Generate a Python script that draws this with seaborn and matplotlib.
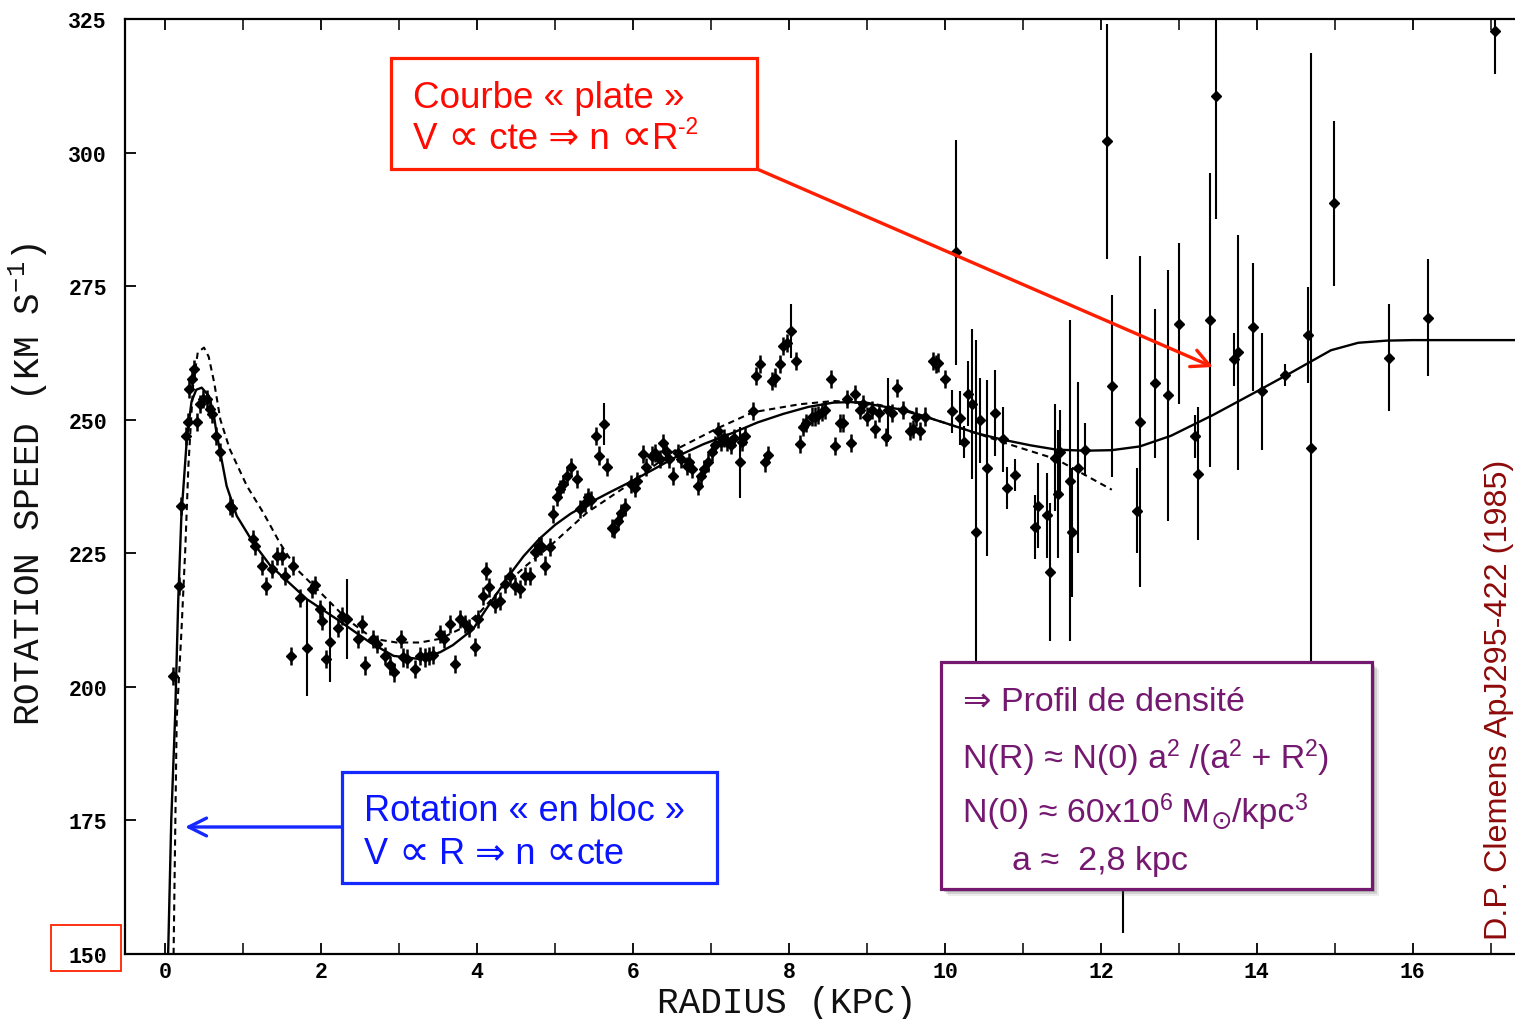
import matplotlib
matplotlib.use("Agg")
import matplotlib.pyplot as plt
from matplotlib.patches import Rectangle, FancyArrowPatch
import seaborn as sns

# ---------------------------------------------------------------- data
# densely sampled inner-disc measurements (radius kpc, speed km/s)
r_in = [0.107, 0.18, 0.21, 0.265, 0.30, 0.31, 0.34, 0.37, 0.41, 0.45, 0.49, 0.54,
        0.58, 0.60, 0.66, 0.71, 0.83, 0.86, 1.13, 1.15, 1.24, 1.30, 1.37, 1.43,
        1.50, 1.54, 1.64, 1.61, 1.73, 1.88, 1.92, 1.99, 2.01, 2.07, 2.22, 2.27,
        2.47, 2.52, 2.56, 2.67, 2.72, 2.82, 2.88, 2.93, 3.03, 3.05, 3.10, 3.21,
        3.27, 3.33, 3.38, 3.44, 3.53, 3.58, 3.65, 3.72, 3.78, 3.85, 3.90, 3.97,
        4.01, 4.08, 4.12, 4.15, 4.23, 4.29, 4.36, 4.42, 4.49, 4.55, 4.62, 4.68,
        4.74, 4.79, 4.82, 4.87, 4.94, 4.97, 5.02, 5.06, 5.10, 5.15, 5.21, 5.28,
        5.32, 5.38, 5.42, 5.46, 5.53, 5.57, 5.67, 5.73, 5.76, 5.81, 5.85, 5.90,
        5.98, 6.03, 6.05, 6.13, 6.17, 6.24, 6.28, 6.35, 6.39, 6.42, 6.46, 6.52,
        6.58, 6.62, 6.69, 6.72, 6.76, 6.84, 6.87, 6.91, 6.96, 7.01, 7.05, 7.09,
        7.13, 7.17, 7.21, 7.26, 7.29, 7.40, 7.44, 7.54, 7.58, 7.63, 7.69, 7.73,
        7.78, 7.82, 7.88, 7.93, 7.97, 8.09, 8.14, 8.18, 8.22, 8.29, 8.33, 8.37,
        8.42, 8.46, 8.54, 8.59, 8.65, 8.69, 8.74, 8.79, 8.85, 8.91, 8.95, 9.00,
        9.06, 9.10, 9.15, 9.24, 9.32, 9.39, 9.46, 9.55, 9.59, 9.63, 9.68, 9.74,
        9.85, 9.88, 9.91, 10.00]
v_in = [202.1, 218.9, 233.9, 247.0, 249.5, 255.7, 257.6, 259.5, 249.5, 253.0, 253.9, 253.9,
        252.0, 251.0, 247.0, 243.9, 233.9, 233.5, 227.7, 226.4, 222.7, 218.9, 222.0, 224.5,
        224.5, 220.8, 222.7, 205.8, 216.7, 218.3, 219.0, 214.6, 212.4, 205.2, 211.1, 213.3,
        209.0, 211.8, 204.0, 209.0, 208.0, 205.8, 204.0, 202.7, 209.0, 205.5, 205.3, 203.3,
        205.8, 205.5, 205.8, 206.0, 209.9, 209.0, 211.8, 204.3, 212.7, 211.8, 211.0, 207.4,
        212.7, 217.0, 221.7, 218.6, 215.5, 216.1, 219.2, 220.8, 218.9, 218.3, 220.8, 220.8,
        225.2, 226.4, 226.4, 222.7, 226.1, 232.3, 235.5, 237.0, 238.0, 239.5, 241.1, 238.9,
        233.3, 234.5, 235.5, 235.0, 247.0, 243.3, 241.1, 229.8, 229.6, 231.1, 232.5, 233.6,
        238.0, 237.3, 238.5, 243.6, 241.1, 243.3, 243.8, 242.6, 245.7, 244.2, 242.6, 239.5,
        243.8, 242.6, 241.4, 242.0, 240.8, 237.6, 239.5, 240.8, 242.0, 243.9, 245.2, 247.9,
        245.8, 246.5, 245.8, 245.2, 246.5, 245.8, 247.0, 251.7, 258.2, 260.4, 242.0, 243.4,
        257.3, 257.9, 260.4, 263.8, 264.4, 261.0, 245.5, 248.6, 249.4, 250.6, 250.6, 250.9,
        251.5, 251.8, 257.6, 245.1, 249.4, 249.4, 253.9, 245.6, 254.8, 251.8, 253.0, 250.6,
        251.8, 248.3, 251.2, 246.7, 251.2, 256.0, 251.8, 247.9, 248.3, 250.6, 247.9, 250.6,
        261.0, 260.4, 260.7, 257.6]

# measurements with individual (larger) uncertainties
r_bar = [1.82, 2.11, 2.33, 5.63, 7.37, 8.03, 9.27,
         10.09, 10.14, 10.20, 10.24, 10.30, 10.35, 10.40, 10.45, 10.54, 10.64,
         10.74, 10.79, 10.90, 11.15, 11.19, 11.31, 11.35, 11.41, 11.45, 11.48,
         11.60, 11.63, 11.71, 11.80, 12.08, 12.14, 12.28, 12.46, 12.50, 12.70,
         12.86, 13.00, 13.21, 13.25, 13.40, 13.47, 13.71, 13.76, 13.95, 14.06,
         14.36, 14.65, 14.70, 14.99, 15.70, 16.20, 17.05]
v_bar = [207.3, 208.4, 212.7, 249.2, 242.0, 266.6, 251.8,
         251.6, 281.3, 250.3, 245.9, 254.9, 252.9, 228.9, 249.9, 240.9, 251.3,
         246.3, 237.2, 239.7, 229.9, 233.9, 232.1, 221.5, 242.9, 236.1, 243.9,
         238.6, 228.9, 241.0, 244.4, 302.1, 256.3, 175.0, 233.0, 249.6, 256.8,
         254.6, 268.0, 246.9, 239.9, 268.7, 310.6, 261.3, 262.6, 267.3, 255.3,
         258.4, 265.8, 244.7, 290.5, 261.6, 269.1, 322.7]
e_bar = [9.0, 7.5, 7.5, 4.0, 6.7, 5.0, 6.0,
         4.0, 21.0, 5.0, 3.0, 6.0, 14.0, 36.0, 8.0, 16.5, 8.0,
         6.0, 4.0, 3.0, 6.0, 8.0, 8.0, 13.0, 10.0, 12.0, 8.0,
         30.0, 12.0, 16.0, 5.0, 22.0, 17.0, 21.0, 8.0, 31.0, 14.0,
         23.5, 15.0, 4.0, 12.5, 27.5, 23.0, 5.0, 22.0, 12.0, 11.0,
         2.0, 9.0, 74.0, 15.5, 10.0, 11.0, 8.0]

# model rotation curves
r_fit = [0.04, 0.08, 0.13, 0.17, 0.21, 0.28, 0.34, 0.40, 0.47, 0.56, 0.62, 0.66, 0.79,
         0.92, 1.13, 1.35, 1.56, 1.82, 2.2, 2.63, 2.93, 3.27, 3.53, 3.69, 3.95,
         4.12, 4.29, 4.45, 4.60, 4.80, 5.0, 5.2, 5.4, 5.7, 6.0, 6.3, 6.56, 6.9, 7.29, 7.6,
         7.93, 8.25, 8.57, 8.8, 9.0, 9.4, 9.74, 10.0, 10.4, 10.73, 11.1, 11.43,
         11.8, 12.14, 12.5, 12.9, 13.44, 14.0, 14.45, 14.95, 15.3, 15.66, 16.0, 17.31]
v_fit = [150.0, 175.0, 194.6, 216.4, 232.0, 246.4, 253.4, 255.6, 256.0, 254.5, 251.4, 247.6, 237.6,
         232.0, 227.0, 222.7, 219.9, 216.4, 212.7, 208.3, 205.8, 205.2, 206.5, 207.8, 210.8,
         214.6, 218.2, 221.6, 224.5, 227.7, 230.3, 232.4, 234.1, 236.4, 238.6, 241.0, 243.1, 245.4,
         247.6, 249.5, 251.1, 252.4, 253.2, 253.3, 253.0, 252.0, 250.6, 249.4, 247.5, 246.3,
         245.2, 244.4, 244.2, 244.3, 245.0, 247.0, 250.9, 255.3, 258.9, 263.0, 264.4, 264.8,
         264.9, 264.9]
r_alt = [0.11, 0.15, 0.21, 0.26, 0.30, 0.36, 0.42, 0.50, 0.56, 0.63, 0.71, 0.83, 1.05, 1.26,
         1.47, 1.69, 1.99, 2.33, 2.67, 2.97, 3.27, 3.53, 3.78, 4.04, 4.34, 4.64, 4.94,
         5.41, 5.92, 6.56, 7.07, 7.54, 8.14, 8.57, 9.0, 9.5, 10.0, 10.5, 10.78, 11.43, 12.14]
v_alt = [150.0, 194.0, 210.2, 225.8, 241.4, 256.4, 262.6, 263.5, 261.8, 257.0, 250.0, 244.5, 237.6,
         232.6, 227.0, 222.0, 217.7, 212.7, 209.0, 208.3, 208.3, 209.0, 210.8, 214.0, 218.9, 222.8,
         226.4, 232.6, 237.6, 244.5, 248.3, 251.4, 252.9, 253.5, 253.2, 251.8, 249.4, 247.0, 245.6,
         242.6, 236.9]

x_ticks = [0, 2, 4, 6, 8, 10, 12, 14, 16]
x_minor = [1, 3, 5, 7, 9, 11, 13, 15, 17]
y_ticks = [150, 175, 200, 225, 250, 275, 300, 325]

# ---------------------------------------------------------------- figure
sns.set_theme(style="ticks")
plt.rcParams["font.family"] = ["Liberation Sans", "DejaVu Sans"]

W, H = 1515, 1020
fig = plt.figure(figsize=(W / 100, H / 100), dpi=100)
fig.patch.set_facecolor("white")
ax = fig.add_axes([125 / W, 1 - 955 / H, (W - 125) / W, (955 - 20) / H])
ax.set_facecolor("white")

sns.lineplot(x=r_fit, y=v_fit, ax=ax, sort=False, color="black", lw=1.7, zorder=2)
sns.lineplot(x=r_alt, y=v_alt, ax=ax, sort=False, color="black", lw=1.5,
             dashes=False, linestyle=(0, (3.0, 2.2)), zorder=2)

ax.errorbar(r_in, v_in, yerr=1.7, xerr=0.05, fmt="D", ms=5.3, color="black",
            elinewidth=1.8, capsize=0, zorder=3)
ax.errorbar(r_bar, v_bar, yerr=e_bar, xerr=0.05, fmt="D", ms=5.3, color="black",
            elinewidth=1.5, capsize=0, zorder=3)

ax.set_xlim(-0.513, 17.31)
ax.set_ylim(150, 325)
ax.set_xticks(x_ticks)
ax.set_xticks(x_minor, minor=True)
ax.set_yticks(y_ticks)
ax.set_xticklabels([str(t) for t in x_ticks])
ax.set_yticklabels([str(t) for t in y_ticks])

for side in ("left", "bottom", "top"):
    ax.spines[side].set_color("black")
    ax.spines[side].set_linewidth(1.6)
ax.spines["right"].set_visible(False)

ax.tick_params(axis="x", which="major", direction="in", length=8, width=1.3,
               top=True, pad=5, colors="black")
ax.tick_params(axis="x", which="minor", direction="in", length=8, width=1.3, top=True)
ax.tick_params(axis="y", which="major", direction="in", length=8, width=1.3,
               right=False, pad=13, colors="black")
for lbl in ax.get_xticklabels() + ax.get_yticklabels():
    lbl.set_fontfamily("Liberation Mono")
    lbl.set_fontweight("bold")
    lbl.set_fontsize(15.5)

ax.set_xlabel("RADIUS (KPC)", fontfamily="Liberation Mono", fontsize=26, color="#111111")
ax.set_ylabel(r"ROTATION SPEED (KM S$\mathregular{^{-1}}$)", fontfamily="Liberation Mono",
              fontsize=26, color="#111111")
ax.xaxis.set_label_coords((787 - 125) / 1390, (955 - 986) / 935)
ax.yaxis.set_label_coords((50 - 125) / 1390, (955 - 485) / 935)


# ---------------------------------------------------------------- annotations
def fxy(px, py):
    return px / W, 1 - py / H


def box(x0, y0, x1, y1, color, lw=2.3, shadow=False):
    if shadow:
        for off, a in ((7, 0.10), (5, 0.18), (3, 0.25)):
            fig.patches.append(Rectangle(fxy(x0 + off, y1 + off), (x1 - x0) / W, (y1 - y0) / H,
                                         transform=fig.transFigure, facecolor="#555555",
                                         edgecolor="none", alpha=a, zorder=4))
    fig.patches.append(Rectangle(fxy(x0, y1), (x1 - x0) / W, (y1 - y0) / H,
                                 transform=fig.transFigure, facecolor="white",
                                 edgecolor=color, lw=lw, zorder=5))


renderer = fig.canvas.get_renderer()


def runs(x0, y0, parts, color, size):
    """Draw consecutive text runs; each part is (text, scale, shift in em)."""
    em = size * 100 / 72
    x = x0
    for s, scale, dy in parts:
        t = fig.text(*fxy(x, y0 + dy * em), s, fontsize=size * scale, color=color,
                     ha="left", va="baseline", zorder=6,
                     fontfamily=["Liberation Sans", "DejaVu Sans"])
        x += t.get_window_extent(renderer=renderer).width


def arrow(p0, p1, color):
    fig.patches.append(FancyArrowPatch(fxy(*p0), fxy(*p1), transform=fig.transFigure,
                                       arrowstyle="->", mutation_scale=32, lw=2.4,
                                       color=color, zorder=6, shrinkA=0, shrinkB=0))


RED = "#FF1E00"
BLUE = "#1428FF"
PURPLE = "#741870"
PROP = "\u221d"   # proportional sign, drawn a bit larger than the text
PS, PD = 1.2, 0.04

# flat outer curve
box(391, 59, 757, 170, RED)
arrow((757, 170), (1213, 368), RED)
runs(413, 108, [("Courbe « plate »", 1, 0)], "#FF0A00", 26.5)
runs(413, 149, [("V ", 1, 0), (PROP, PS, PD), (" cte ⇒ n ", 1, 0), (PROP, PS, PD),
                ("R", 1, 0), ("-2", 0.62, -0.42)], "#FF0A00", 26.5)

# solid-body inner rise
box(342, 773, 717, 884, BLUE)
arrow((342, 828), (185, 828), BLUE)
runs(364, 821, [("Rotation « en bloc »", 1, 0)], "#0A14FF", 26)
runs(364, 864, [("V ", 1, 0), (PROP, PS, PD), (" R ⇒ n ", 1, 0), (PROP, PS, PD),
                ("cte", 1, 0)], "#0A14FF", 26)

# density profile
box(941, 663, 1372, 890, PURPLE, shadow=True)
runs(963, 711, [("⇒ Profil de densité", 1, 0)], PURPLE, 24.5)
runs(963, 768, [("N(R) ≈ N(0) a", 1, 0), ("2", 0.68, -0.36), (" /(a", 1, 0),
                ("2", 0.68, -0.36), (" + R", 1, 0), ("2", 0.68, -0.36), (")", 1, 0)],
     PURPLE, 24.5)
runs(963, 822, [("N(0) ≈ 60x10", 1, 0), ("6", 0.68, -0.36), (" M", 1, 0),
                ("⊙", 0.75, 0.22), ("/kpc", 1, 0), ("3", 0.68, -0.36)], PURPLE, 24.5)
runs(1012, 870, [("a ≈  2,8 kpc", 1, 0)], PURPLE, 24.5)

# frame around the lowest tick value
fig.patches.append(Rectangle(fxy(51, 972), 70 / W, 46 / H, transform=fig.transFigure,
                             facecolor="none", edgecolor="#FF2200", lw=1.3, zorder=6))

# source credit
fig.text(*fxy(1499, 940), "D.P. Clemens ApJ295-422 (1985)", rotation=90,
         ha="center", va="bottom", fontsize=23.3, color="#8E0A0A",
         fontfamily=["Liberation Sans", "DejaVu Sans"], zorder=6)

fig.savefig("out.png", dpi=100, facecolor="white")
